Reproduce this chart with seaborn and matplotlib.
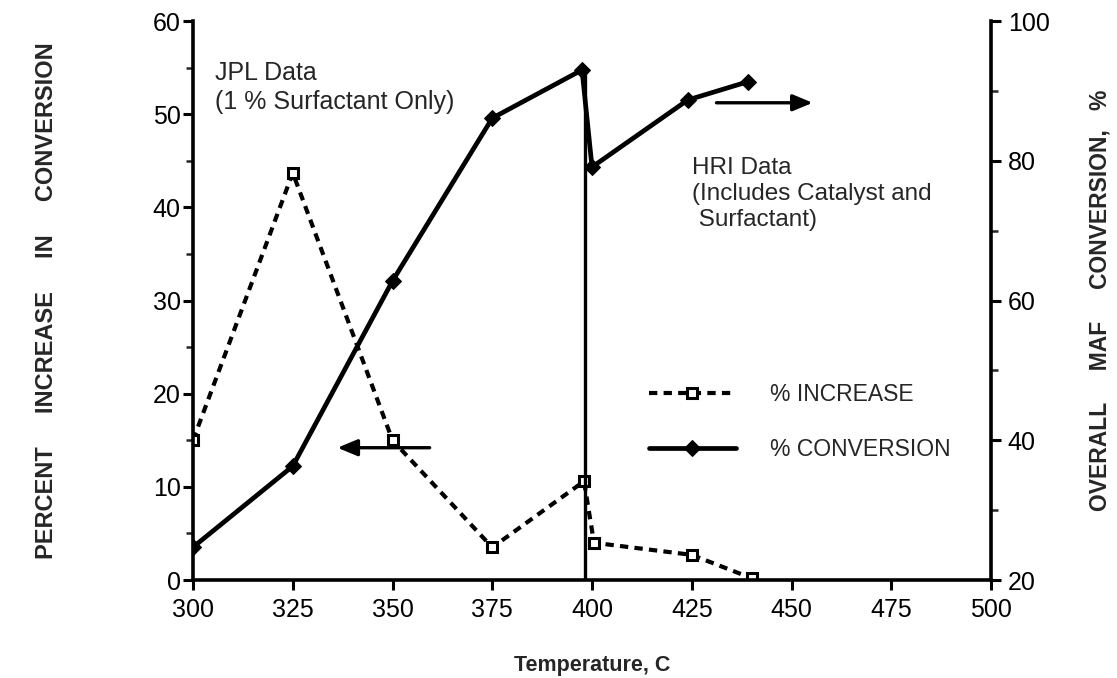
import matplotlib
matplotlib.use("Agg")
import matplotlib.pyplot as plt
import seaborn as sns
import pandas as pd
from matplotlib.ticker import MultipleLocator

# Data
inc_temp = [300, 325, 350, 375, 398, 400.5, 425, 440]
inc_vals = [15.0, 43.7, 15.0, 3.5, 10.6, 4.0, 2.7, 0.2]
conv_temp = [300, 325, 350, 375, 397.5, 400, 424, 439]
conv_vals = [24.7, 36.3, 62.8, 86.1, 93.0, 79.1, 88.7, 91.3]

x_ticks = [300, 325, 350, 375, 400, 425, 450, 475, 500]
left_ticks = [0, 10, 20, 30, 40, 50, 60]
right_ticks = [20, 40, 60, 80, 100]

sns.set_style("ticks")
plt.rcParams['font.family'] = ['Liberation Sans', 'DejaVu Sans']

df_inc = pd.DataFrame({"T": inc_temp, "v": inc_vals})
df_conv = pd.DataFrame({"T": conv_temp, "v": conv_vals})

fig = plt.figure(figsize=(11.17, 6.78), dpi=100)
ax = fig.add_axes([0.1728, 0.1445, 0.7144, 0.8245])
ax2 = ax.twinx()

sns.lineplot(data=df_inc, x="T", y="v", ax=ax, color="black", lw=3.0,
             linestyle=(0, (2.0, 1.5)), marker="s", markersize=7.5,
             markerfacecolor="white", markeredgecolor="black", markeredgewidth=2.2,
             sort=False, label="% INCREASE", legend=False)
sns.lineplot(data=df_conv, x="T", y="v", ax=ax2, color="black", lw=3.4,
             marker="D", markersize=8, markerfacecolor="black",
             markeredgecolor="black", sort=False, label="% CONVERSION", legend=False)
# divider line drawn down from the JPL peak to the axis
ax2.vlines(conv_temp[4] + 0.8, 20, conv_vals[4], color="black", lw=2.4)

ax.set_xlim(300, 500)
ax.set_ylim(0, 60)
ax2.set_ylim(20, 100)
ax.set_xticks(x_ticks)
ax.set_yticks(left_ticks)
ax2.set_yticks(right_ticks)
ax.yaxis.set_minor_locator(MultipleLocator(5))
ax2.yaxis.set_minor_locator(MultipleLocator(10))

for a in (ax, ax2):
    for s in a.spines.values():
        s.set_linewidth(2.6)
        s.set_color("black")
    a.spines["top"].set_visible(False)
    a.tick_params(which="major", direction="out", length=7, width=2.2,
                  labelsize=18, colors="black", pad=2)
    a.tick_params(which="minor", direction="out", length=5, width=1.8)
ax.tick_params(axis="x", pad=6)
ax2.tick_params(axis="y", pad=5)
ax.spines["right"].set_visible(False)
ax2.spines["left"].set_visible(False)
ax2.spines["bottom"].set_visible(False)

ax.set_xlabel("Temperature, C", fontsize=15.5, fontweight="bold", labelpad=24)
ax.set_ylabel("PERCENT     INCREASE     IN     CONVERSION", fontsize=17,
              fontweight="bold", labelpad=68)
ax2.set_ylabel("OVERALL     MAF     CONVERSION,   %", fontsize=16.5,
               fontweight="bold", labelpad=28, rotation=90)
ax2.yaxis.set_label_position("right")

ax.text(305.5, 55.7, "JPL Data\n(1 % Surfactant Only)", fontsize=18,
        va="top", ha="left", linespacing=1.25)
ax2.text(425, 80.6, "HRI Data\n(Includes Catalyst and\n Surfactant)", fontsize=17.5,
         va="top", ha="left", linespacing=1.25)

ax.annotate("", xy=(335.5, 14.2), xytext=(360, 14.2),
            arrowprops=dict(arrowstyle="-|>,head_length=1.2,head_width=0.5",
                            color="black", lw=2.4))
ax2.annotate("", xy=(456, 88.3), xytext=(430.5, 88.3),
             arrowprops=dict(arrowstyle="-|>,head_length=1.2,head_width=0.5",
                             color="black", lw=2.4))

h1, l1 = ax.get_legend_handles_labels()
h2, l2 = ax2.get_legend_handles_labels()
leg = ax.legend(h1 + h2, l1 + l2, loc="upper left", bbox_to_anchor=(0.545, 0.389),
                frameon=False, fontsize=16.5, handlelength=3.8, labelspacing=1.4,
                handletextpad=1.5)
leg.set_zorder(10)

fig.savefig("out.png", dpi=100)
